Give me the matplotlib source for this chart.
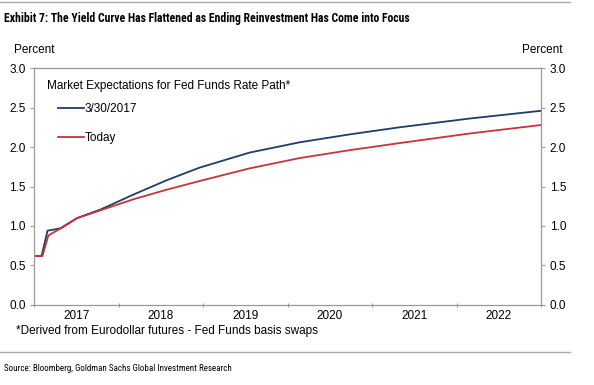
import matplotlib.pyplot as plt
from matplotlib.lines import Line2D
from matplotlib import font_manager

# market expectations for fed funds rate path
years_march = [2017.0, 2017.09, 2017.16, 2017.31, 2017.51, 2017.79, 2018.18, 2018.57,
               2018.96, 2019.55, 2020.14, 2020.73, 2021.32, 2022.14, 2023.0]
rate_march = [0.62, 0.62, 0.94, 0.97, 1.10, 1.21, 1.40, 1.58,
              1.74, 1.93, 2.06, 2.16, 2.25, 2.36, 2.46]
years_today = [2017.0, 2017.10, 2017.17, 2017.25, 2017.35, 2017.51, 2017.79, 2018.18,
               2018.57, 2018.96, 2019.55, 2020.14, 2020.73, 2021.32, 2022.14, 2023.0]
rate_today = [0.62, 0.62, 0.88, 0.93, 0.99, 1.10, 1.20, 1.34,
              1.46, 1.57, 1.73, 1.86, 1.96, 2.05, 2.17, 2.28]
year_labels = ['2017', '2018', '2019', '2020', '2021', '2022']
y_ticks = [0.0, 0.5, 1.0, 1.5, 2.0, 2.5, 3.0]

plt.rcParams['font.family'] = ['Liberation Sans', 'DejaVu Sans']

# title and source use a narrow face in the original, take one if installed
installed = {f.name for f in font_manager.fontManager.ttflist}
narrow = None
for name in ['Liberation Sans Narrow', 'Arial Narrow', 'Roboto Condensed', 'DejaVu Sans Condensed']:
    if name in installed:
        narrow = name
        break
if narrow:
    title_font = dict(family=[narrow, 'DejaVu Sans'], fontsize=8.5)
    source_font = dict(family=[narrow, 'DejaVu Sans'], fontsize=6.5)
else:
    title_font = dict(family=['Liberation Sans', 'DejaVu Sans'], fontsize=7.3)
    source_font = dict(family=['Liberation Sans', 'DejaVu Sans'], fontsize=5.9)

fig = plt.figure(figsize=(5.94, 3.85), dpi=100)
ax = fig.add_axes([0.0572, 0.208, 0.854, 0.615])

blue = '#1d3d6b'
red = '#c8323a'
ax.plot(years_march, rate_march, color=blue, lw=1.3)
ax.plot(years_today, rate_today, color=red, lw=1.3)

ax.set_xlim(2017, 2023)
ax.set_ylim(0, 3)
# year boundaries get tick marks, labels go mid-year
ax.set_xticks(range(2017, 2024))
ax.set_xticklabels([])
ax.set_xticks([int(y) + 0.5 for y in year_labels], minor=True)
ax.set_xticklabels(year_labels, minor=True)
ax.tick_params(axis='x', which='minor', length=0, labelsize=8.5, pad=4)
ax.tick_params(axis='x', which='major', length=3, color='#999999', direction='inout')
ax.set_yticks(y_ticks)
ax.set_yticklabels([f'{v:.1f}' for v in y_ticks])
ax.tick_params(axis='y', length=3, color='#999999', labelsize=8.5,
               right=True, labelright=True, pad=3)
for s in ax.spines.values():
    s.set_color('#999999')
    s.set_linewidth(0.9)

ax.text(0.026, 0.925, 'Market Expectations for Fed Funds Rate Path*', transform=ax.transAxes,
        fontsize=8.5, va='center')
handles = [Line2D([], [], color=blue, lw=1.3), Line2D([], [], color=red, lw=1.3)]
ax.legend(handles, ['3/30/2017', 'Today'], loc='upper left', bbox_to_anchor=(0.026, 0.897),
          frameon=False, fontsize=8.5, handlelength=2.2, handletextpad=0.1, labelspacing=1.45)

fig.text(0.0236, 0.862, 'Percent', fontsize=8.5)
fig.text(0.913, 0.862, 'Percent', fontsize=8.5, ha='center')
fig.text(0.027, 0.133, '*Derived from Eurodollar futures - Fed Funds basis swaps', fontsize=8.5)

fig.text(0.007, 0.953, 'Exhibit 7: The Yield Curve Has Flattened as Ending Reinvestment Has Come into Focus',
         fontweight='bold', va='center', **title_font)
fig.text(0.007, 0.042, 'Source: Bloomberg, Goldman Sachs Global Investment Research',
         va='center', **source_font)
fig.add_artist(Line2D([0.0, 0.96], [0.994, 0.994], color='#aaaaaa', lw=1))
fig.add_artist(Line2D([0.0, 0.96], [0.086, 0.086], color='#aaaaaa', lw=1))

fig.savefig('out.png', dpi=100)
